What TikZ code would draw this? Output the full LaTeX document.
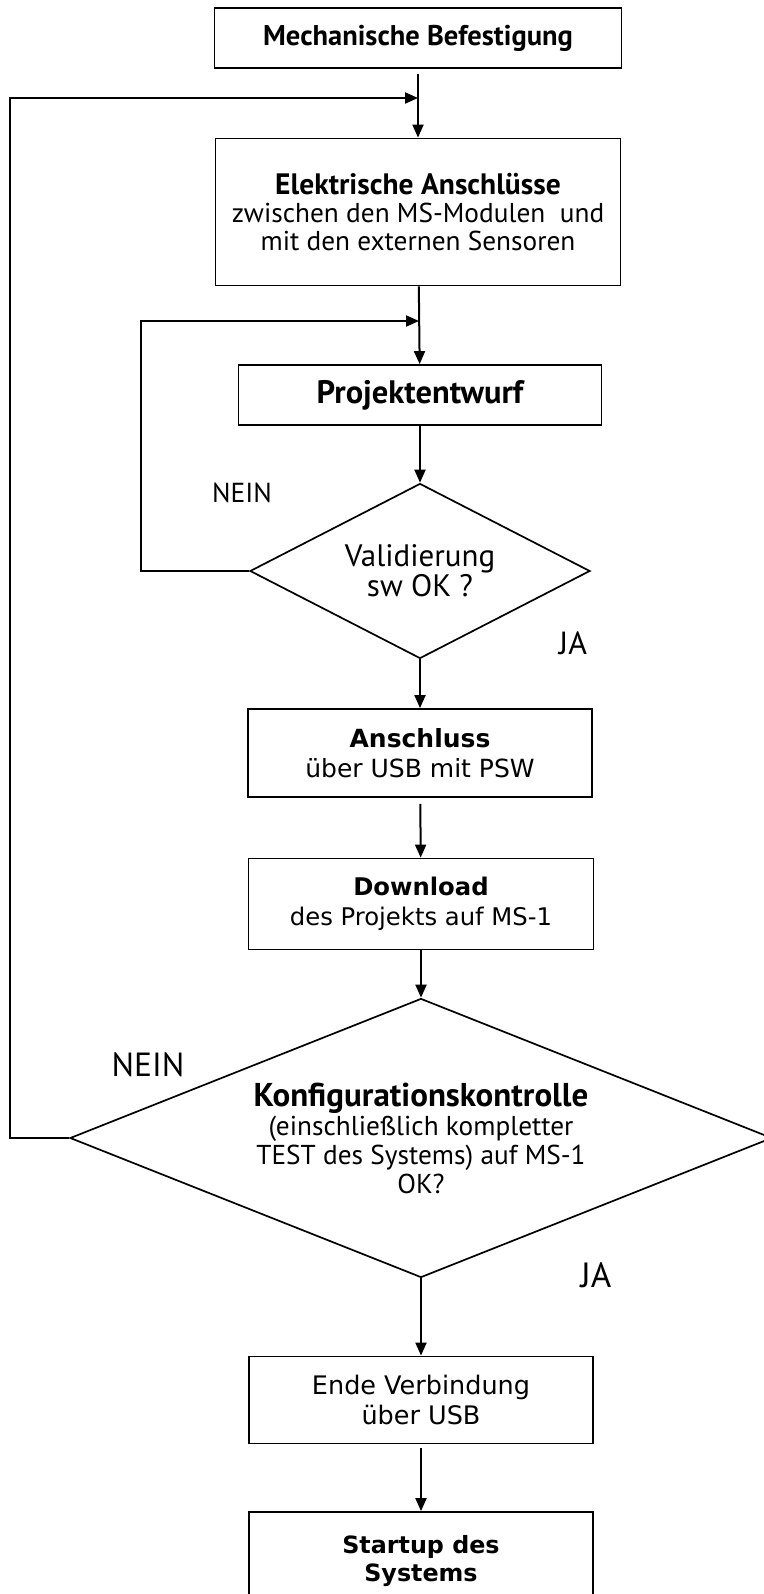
\documentclass[tikz,border=0pt]{standalone}
\usepackage{fontspec}
\setmainfont{PT Sans}
\newfontfamily\lucfont{DejaVu Sans}
\usetikzlibrary{arrows.meta,shapes.geometric}
\newcommand{\headline}[2]{{\fontsize{#1}{#1}\selectfont\bfseries #2}}

\begin{document}
\begin{tikzpicture}[x=1pt,y=-1pt,
  box/.style={draw,line width=1.8pt,inner sep=0pt,align=center,font=\fontsize{27.3}{28}\selectfont},
  widebox/.style={box,font=\lucfont\fontsize{25}{30}\selectfont},
  check/.style={diamond,draw,line width=1.7pt,inner sep=0pt,align=center,font=\fontsize{27.3}{29}\selectfont},
  answer/.style={font=\fontsize{27.5}{28}\selectfont},
  edge/.style={line width=2pt,-{Triangle[length=13pt,width=11pt]}}]
\useasboundingbox (0,0) rectangle (763,1594);

\node(mech)[box,minimum width=407pt,minimum height=60pt] at (418,38) {\headline{28.5}{Mechanische Befestigung}};
\node(elek)[box,minimum width=405pt,minimum height=147pt] at (418,212) {\headline{29.5}{Elektrische Anschlüsse}\\zwischen den MS-Modulen~ und\\mit den externen Sensoren};
\node(proj)[box,minimum width=363pt,minimum height=60pt] at (420,395) {\headline{32.5}{Projektentwurf}};
\node(val)[check,font=\fontsize{31}{30}\selectfont,minimum width=340pt,minimum height=175pt,aspect=1.94] at (420,571) {Validierung\\sw OK ?};
\node(ansch)[widebox,minimum width=344pt,minimum height=88pt] at (420,753) {\textbf{Anschluss}\\über USB mit PSW};
\node(down)[widebox,font=\lucfont\fontsize{24.3}{30}\selectfont,minimum width=345pt,minimum height=91pt] at (421,904) {\textbf{Download}\\des Projekts auf MS-1};
\node(konf)[check,minimum width=702pt,minimum height=279pt,aspect=2.5] at (421,1138) {\headline{33}{Konfigurationskontrolle}\\(einschließlich kompletter\\TEST des Systems) auf MS-1\\OK?};
\node(ende)[widebox,font=\lucfont\fontsize{25.5}{30}\selectfont,minimum width=344pt,minimum height=87pt] at (421,1400) {Ende Verbindung\\über USB};
\node(start)[widebox,font=\lucfont\fontsize{23.8}{28}\selectfont,minimum width=344pt,minimum height=98pt] at (421,1561) {\textbf{Startup des}\\\textbf{Systems}};

\node(nein1)[answer] at (242,493) {NEIN};
\node(ja1)[answer,font=\fontsize{32}{32}\selectfont] at (573,643) {JA};
\node(nein2)[answer,font=\fontsize{33.5}{34}\selectfont] at (148,1065) {NEIN};
\node(ja2)[answer,font=\fontsize{35}{35}\selectfont] at (596,1275) {JA};

\coordinate (back1) at (418,98);
\coordinate (back2) at (419,321);

\draw [edge,shorten <=5pt] (mech) -- (elek);
\draw [edge] (elek) -- (proj);
\draw [edge] (proj) -- (val);
\draw [edge] (val) -- (ansch);
\draw [edge,shorten <=6pt] (ansch) -- (down);
\draw [edge] (down) -- (konf);
\draw [edge] (konf) -- (ende);
\draw [edge,shorten <=4pt] (ende) -- (start);
\draw [edge] (val.west) -- ++(-108,0) |- (back2);
\draw [edge] (konf.west) -- ++(-59,0) |- (back1);
\end{tikzpicture}
\end{document}
